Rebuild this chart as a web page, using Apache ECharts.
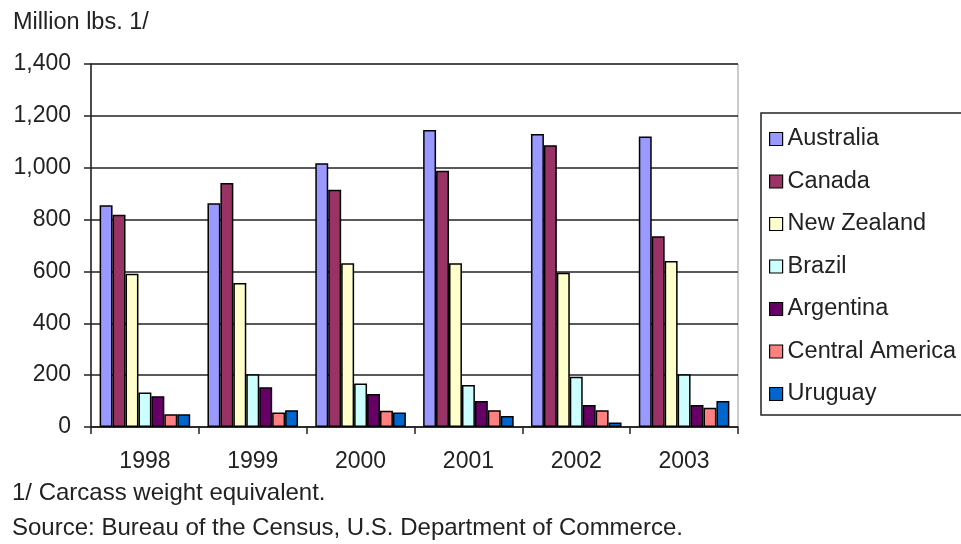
<!DOCTYPE html>
<html>
<head>
<meta charset="utf-8">
<script src="https://cdn.jsdelivr.net/npm/echarts@6/dist/echarts.min.js"></script>
<style>html,body{margin:0;padding:0;background:#fff}#c{width:961px;height:544px}</style>
</head>
<body>
<div id="c"></div>
<script>
const years = ['1998', '1999', '2000', '2001', '2002', '2003'];
const seriesNames = ['Australia', 'Canada', 'New Zealand', 'Brazil', 'Argentina', 'Central America', 'Uruguay'];
const australia = [855, 863, 1017, 1145, 1130, 1120];
const canada = [819, 941, 915, 988, 1087, 736];
const newZealand = [591, 555, 632, 632, 595, 640];
const brazil = [133, 203, 168, 162, 194, 203];
const argentina = [119, 153, 127, 100, 85, 85];
const centralAmerica = [49, 56, 63, 65, 65, 74];
const uruguay = [49, 65, 56, 42, 17, 100];
const colors = ['#9999FF', '#993366', '#FFFFCC', '#CCFFFF', '#660066', '#FF8080', '#0066CC'];
const allValues = [australia, canada, newZealand, brazil, argentina, centralAmerica, uruguay];

const font = 'Liberation Sans, Arial, sans-serif';
const fs = 23;
const chart = echarts.init(document.getElementById('c'));
chart.setOption({
  animation: false,
  backgroundColor: '#fff',
  textStyle: { fontFamily: font, color: '#000' },
  title: [
    { text: 'Million lbs. 1/', left: 13, top: 11, padding: 0, textStyle: { fontFamily: font, fontSize: 23.5, fontWeight: 'normal', color: '#222' } },
    { text: '1/ Carcass weight equivalent.', left: 12, top: 481, padding: 0, textStyle: { fontFamily: font, fontSize: 24, fontWeight: 'normal', color: '#222' } },
    { text: 'Source: Bureau of the Census, U.S. Department of Commerce.', left: 12, top: 516, padding: 0, textStyle: { fontFamily: font, fontSize: 24, fontWeight: 'normal', color: '#222' } }
  ],
  legend: {
    orient: 'vertical',
    left: 761,
    top: 113,
    padding: [14, 60, 9, 8],
    itemGap: 18.5,
    itemWidth: 13,
    itemHeight: 13,
    icon: 'rect',
    borderColor: '#222',
    borderWidth: 1.5,
    itemStyle: { borderColor: '#000', borderWidth: 1.2 },
    textStyle: { fontFamily: font, fontSize: 23.5, color: '#222', padding: [0, 0, 0, 0] },
    data: seriesNames
  },
  grid: { left: 91, right: 223, top: 64, bottom: 117, show: true, borderColor: '#999', borderWidth: 1 },
  xAxis: {
    type: 'category',
    data: years,
    axisLine: { lineStyle: { color: '#222', width: 1.5 } },
    axisTick: { show: true, length: 7, lineStyle: { color: '#222', width: 1.5 } },
    axisLabel: { fontFamily: font, fontSize: fs, color: '#222', margin: 23 }
  },
  yAxis: {
    type: 'value',
    min: 0, max: 1400, interval: 200,
    axisLine: { show: true, lineStyle: { color: '#222', width: 1.5 } },
    axisTick: { show: true, length: 7, lineStyle: { color: '#222', width: 1.5 } },
    splitLine: { lineStyle: { color: '#222', width: 1.5 } },
    axisLabel: { fontFamily: font, fontSize: fs, color: '#222', margin: 20,
      formatter: v => v.toLocaleString('en-US') }
  },
  series: seriesNames.map((n, i) => ({
    name: n,
    type: 'bar',
    data: allValues[i],
    barGap: '0%',
    barCategoryGap: '16%',
    itemStyle: { color: colors[i], borderColor: '#000', borderWidth: 1.5 }
  }))
});
</script>
</body>
</html>
